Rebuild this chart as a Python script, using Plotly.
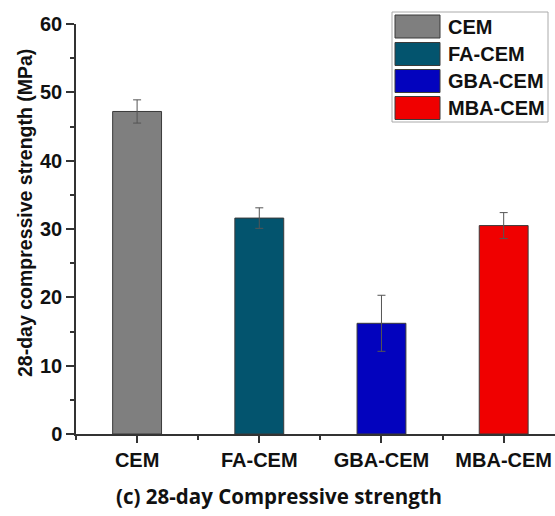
import plotly.graph_objects as go

categories = ["CEM", "FA-CEM", "GBA-CEM", "MBA-CEM"]
strength = [47.2, 31.6, 16.2, 30.5]
errors = [1.7, 1.5, 4.1, 1.9]
colors = ["#7f7f7f", "#03546e", "#0303be", "#f00000"]
y_ticks = [0, 10, 20, 30, 40, 50, 60]

W, H = 555, 516
L, R, T, B = 76, 0, 24, 82
pw, ph = W - L - R, H - T - B

def px(x):
    return (x - L) / pw

def py(y):
    return (H - B - y) / ph

fig = go.Figure()
xs = list(range(len(categories)))
for i, (c, v, e, col) in enumerate(zip(categories, strength, errors, colors)):
    fig.add_trace(go.Bar(
        x=[xs[i]], y=[v], name=c, width=0.4,
        marker=dict(color=col, line=dict(color="#3a3a3a", width=1)),
        error_y=dict(type="data", array=[e], visible=True, color="#555555", thickness=1, width=4),
        showlegend=False,
    ))

font_b = dict(family="Arial", size=20, color="#111111", weight="bold")

fig.update_layout(
    width=W, height=H,
    margin=dict(l=L, r=R, t=T, b=B),
    plot_bgcolor="white", paper_bgcolor="white",
    bargap=0.6,
    xaxis=dict(
        range=[-0.5, 3.42], tickmode="array", tickvals=xs, ticktext=categories,
        showline=True, linecolor="#333333", linewidth=1.5,
        ticks="outside", ticklen=7, tickwidth=1.5, tickcolor="#333333",
        tickfont=font_b, showgrid=False, zeroline=False,
        minor=dict(ticks="outside", tick0=0.5, dtick=1, ticklen=4, tickwidth=1.5, tickcolor="#333333"),
    ),
    yaxis=dict(
        range=[0, 60], tickvals=y_ticks,
        showline=True, linecolor="#333333", linewidth=1.5,
        ticks="outside", ticklen=8, tickwidth=1.5, tickcolor="#333333",
        tickfont=font_b, showgrid=False, zeroline=False,
        minor=dict(ticks="outside", dtick=5, ticklen=4, tickwidth=1.5, tickcolor="#333333"),
    ),
)

shapes = []
annotations = []
# custom legend
shapes.append(dict(type="rect", xref="paper", yref="paper",
                   x0=px(392), x1=px(548), y0=py(122), y1=py(12),
                   line=dict(color="#aaaaaa", width=1), fillcolor="white", layer="above"))
row_top = [15, 42.5, 69.5, 96.5]
for c, col, yt in zip(categories, colors, row_top):
    shapes.append(dict(type="rect", xref="paper", yref="paper",
                       x0=px(395), x1=px(440), y0=py(yt + 23), y1=py(yt),
                       line=dict(color="#3a3a3a", width=1), fillcolor=col, layer="above"))
    annotations.append(dict(xref="paper", yref="paper", x=px(446), y=py(yt + 11.5),
                            text=c, showarrow=False, xanchor="left", yanchor="middle",
                            font=font_b))

# y-axis title
annotations.append(dict(xref="paper", yref="paper", x=px(25), y=py(213),
                        text="28-day compressive strength (MPa)", showarrow=False,
                        textangle=-90, xanchor="center", yanchor="middle",
                        font=dict(family="Arial", size=19.5, color="#111111", weight="bold")))

# caption
annotations.append(dict(xref="paper", yref="paper", x=px(279), y=py(496),
                        text="(c) 28-day Compressive strength", showarrow=False,
                        xanchor="center", yanchor="middle",
                        font=dict(family="Open Sans", size=20.5, color="#111111", weight="bold")))
fig.update_layout(shapes=shapes, annotations=annotations)

fig.write_html("out.html", config={"displayModeBar": False},
               post_script="document.body.style.margin='0px';document.body.style.overflow='hidden';")
